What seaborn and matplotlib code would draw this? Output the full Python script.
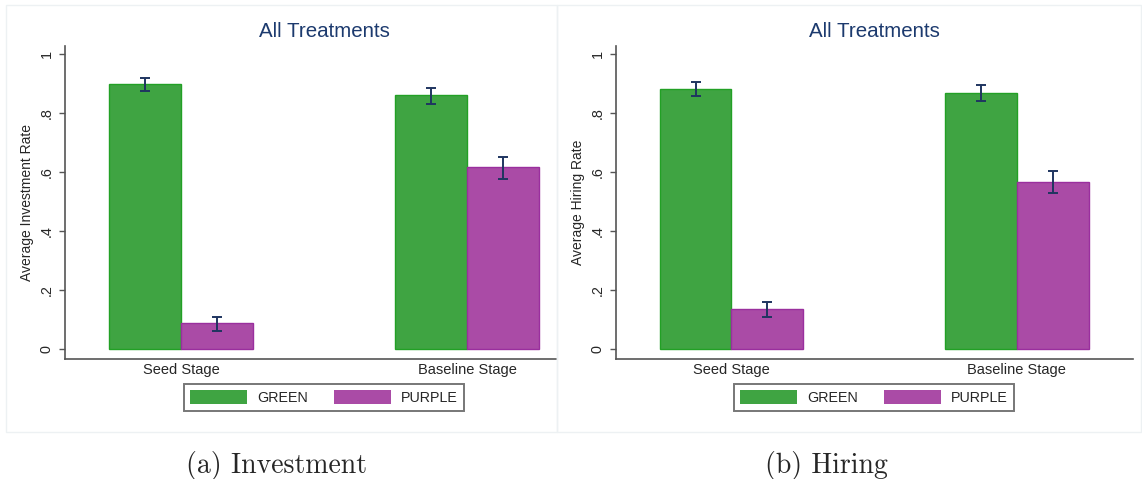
import numpy as np
import pandas as pd
import matplotlib
matplotlib.use("Agg")
import matplotlib.pyplot as plt
from matplotlib.patches import Rectangle
import seaborn as sns

# ---------------- data ----------------
stages = ["Seed Stage", "Baseline Stage"]
groups = ["GREEN", "PURPLE"]

inv_green = [0.899, 0.861]
inv_purple = [0.087, 0.617]
inv_green_lo = [0.875, 0.831]
inv_green_hi = [0.920, 0.885]
inv_purple_lo = [0.061, 0.575]
inv_purple_hi = [0.107, 0.651]

hir_green = [0.882, 0.869]
hir_purple = [0.134, 0.567]
hir_green_lo = [0.859, 0.842]
hir_green_hi = [0.906, 0.894]
hir_purple_lo = [0.107, 0.529]
hir_purple_hi = [0.158, 0.603]

ytick_vals = [0, 0.2, 0.4, 0.6, 0.8, 1.0]
ytick_labels = ["0", ".2", ".4", ".6", ".8", "1"]

panel_titles = ["All Treatments", "All Treatments"]
ylabels = ["Average Investment Rate", "Average Hiring Rate"]
captions = ["(a) Investment", "(b) Hiring"]

# ---------------- style ----------------
sns.set_theme(style="white")
plt.rcParams["font.family"] = ["Liberation Sans", "DejaVu Sans"]

fill_colors = {"GREEN": "#3fa442", "PURPLE": "#aa4ba6"}
edge_colors = {"GREEN": "#22a025", "PURPLE": "#9a2f9e"}
err_color = "#1f3560"
title_color = "#1c3a6e"
spine_color = "#555555"

W, H = 1142, 479
fig = plt.figure(figsize=(W / 100, H / 100), dpi=100)
fig.patch.set_facecolor("white")

# faint panel borders
for (x0, x1) in [(6, 557), (557, 1141)]:
    fig.add_artist(Rectangle((x0 / W, 1 - 432 / H), (x1 - x0) / W, (432 - 5) / H,
                             transform=fig.transFigure, fill=False,
                             edgecolor="#edf1f3", lw=1.0))

panels = [
    dict(means=(inv_green, inv_purple), lo=(inv_green_lo, inv_purple_lo),
         hi=(inv_green_hi, inv_purple_hi), pos=(64.7, 556.0), xlim=(-0.407, 1.311),
         center=324),
    dict(means=(hir_green, hir_purple), lo=(hir_green_lo, hir_purple_lo),
         hi=(hir_green_hi, hir_purple_hi), pos=(615.6, 1133.0), xlim=(-0.406, 1.407),
         center=874),
]

ax_bottom_px, ax_top_px = 359.0, 45.7

for i, p in enumerate(panels):
    x0, x1 = p["pos"]
    ax = fig.add_axes([x0 / W, 1 - ax_bottom_px / H, (x1 - x0) / W,
                       (ax_bottom_px - ax_top_px) / H])
    df = pd.DataFrame({
        "stage": stages * 2,
        "group": [groups[0]] * 2 + [groups[1]] * 2,
        "value": list(p["means"][0]) + list(p["means"][1]),
        "lo": list(p["lo"][0]) + list(p["lo"][1]),
        "hi": list(p["hi"][0]) + list(p["hi"][1]),
    })
    sns.barplot(data=df, x="stage", y="value", hue="group", order=stages,
                hue_order=groups, palette=fill_colors, width=0.503, gap=0,
                errorbar=None, ax=ax, legend=True, saturation=1)
    for cont, g in zip(ax.containers, groups):
        sub = df[df["group"] == g].set_index("stage").loc[stages]
        xs = []
        for bar in cont:
            bar.set_edgecolor(edge_colors[g])
            bar.set_linewidth(1.0)
            xs.append(bar.get_x() + bar.get_width() / 2)
        ax.errorbar(xs, sub["value"].values,
                    yerr=[sub["value"].values - sub["lo"].values,
                          sub["hi"].values - sub["value"].values],
                    fmt="none", ecolor=err_color, elinewidth=1.4,
                    capsize=3.5, capthick=1.4, zorder=5)

    handles, labels = ax.get_legend_handles_labels()
    ax.get_legend().remove()
    leg = fig.legend(handles, labels, ncol=2, loc="center",
                     bbox_to_anchor=(p["center"] / W, 1 - 397.5 / H),
                     fontsize=10.3, frameon=True, fancybox=False,
                     handlelength=4.0, handleheight=1.15, handletextpad=0.7,
                     columnspacing=1.8, borderpad=0.42, borderaxespad=0)
    leg.get_frame().set_edgecolor(spine_color)
    leg.get_frame().set_linewidth(1.4)
    for h in leg.legend_handles:
        h.set_linewidth(0)

    ax.set_xlim(*p["xlim"])
    ax.set_ylim(-0.034, 1.028)
    ax.set_yticks(ytick_vals)
    ax.set_yticklabels(ytick_labels, rotation=90, va="center", fontsize=10.4)
    ax.tick_params(axis="y", which="major", direction="out", length=4,
                   width=1.0, color=spine_color, pad=4, left=True)
    ax.tick_params(axis="x", length=0, pad=3, labelsize=10.5)
    ax.set_xlabel("")
    ax.set_ylabel(ylabels[i], fontsize=10, labelpad=4)
    for s in ["top", "right"]:
        ax.spines[s].set_visible(False)
    for s in ["left", "bottom"]:
        ax.spines[s].set_color(spine_color)
        ax.spines[s].set_linewidth(1.2)
    ax.set_facecolor("white")

    fig.text(p["center"] / W, 1 - 31.7 / H, panel_titles[i], ha="center",
             va="center", fontsize=14.8, color=title_color)

fig.text(276.5 / W, 1 - 466 / H, captions[0], ha="center", va="center",
         fontsize=20, family=["cmr10", "DejaVu Serif"])
fig.text(826 / W, 1 - 466 / H, captions[1], ha="center", va="center",
         fontsize=20, family=["cmr10", "DejaVu Serif"])

fig.savefig("out.png", dpi=100, facecolor="white")
